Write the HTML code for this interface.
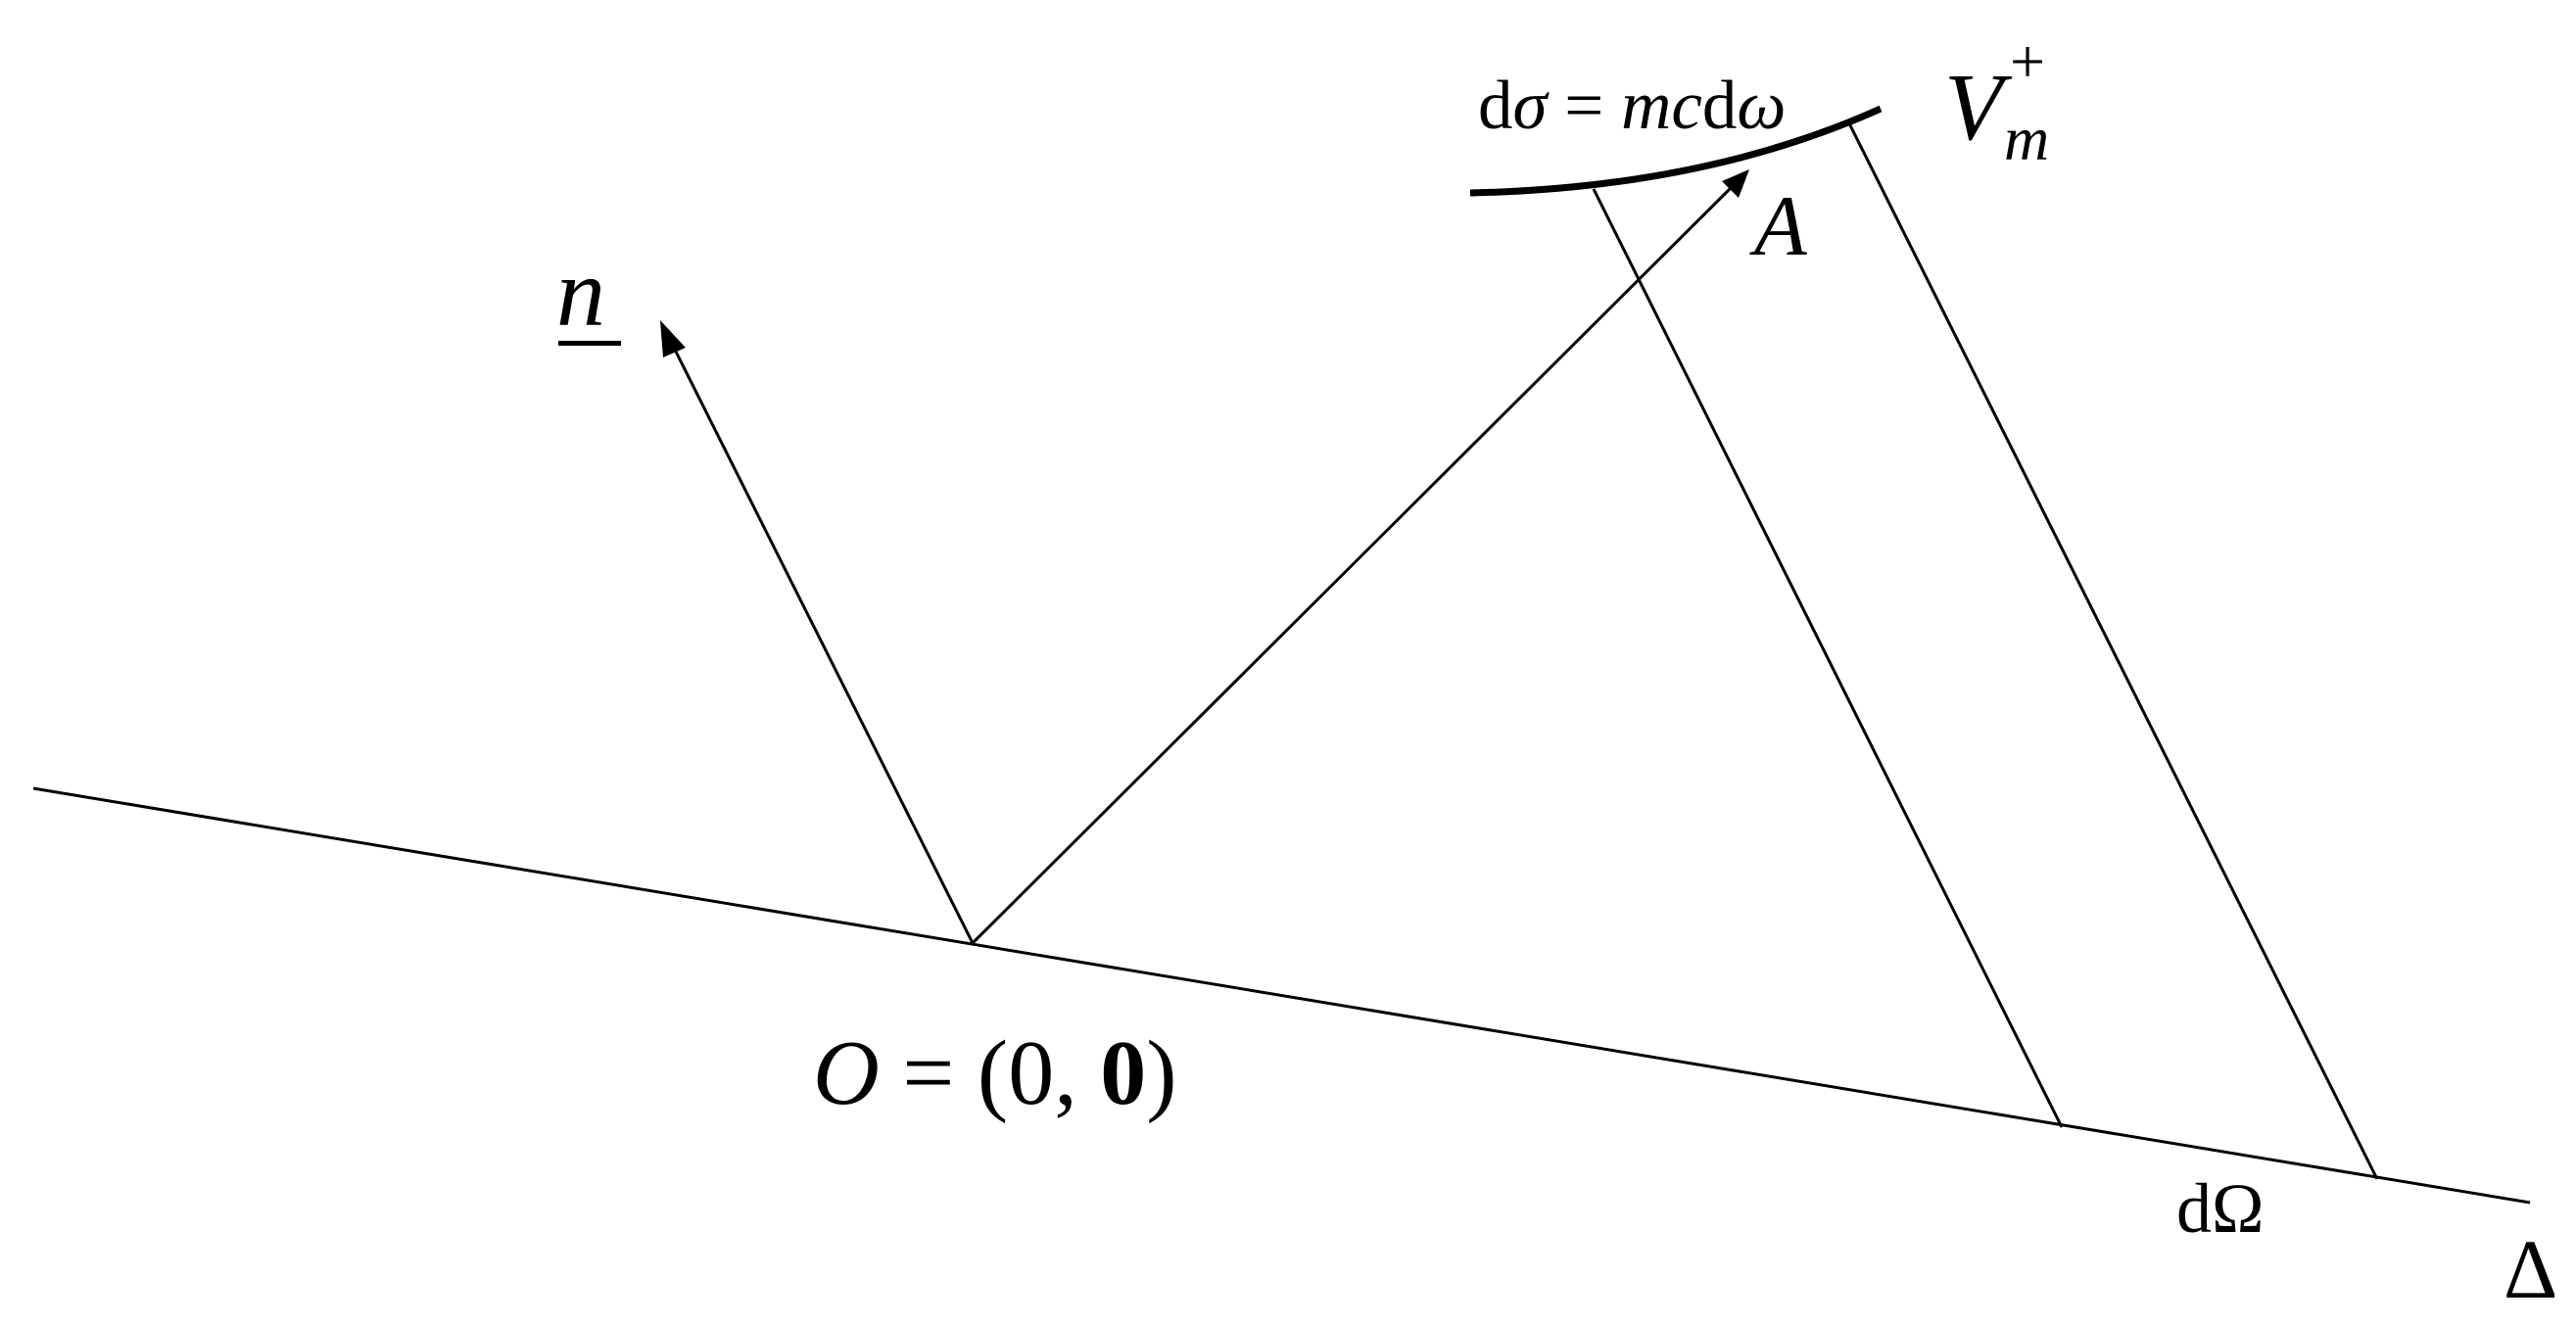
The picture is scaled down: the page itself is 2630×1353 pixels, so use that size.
<!DOCTYPE html>
<html><head><meta charset="utf-8"><style>
html,body{margin:0;padding:0;background:#fff;}
svg{display:block;}
text{font-family:"Liberation Serif",serif;fill:#000;}
</style></head><body>
<svg width="2630" height="1353" viewBox="0 0 2630 1353" xmlns="http://www.w3.org/2000/svg">
<g stroke="#000" stroke-width="3" fill="none">
<line x1="34" y1="805" x2="2583" y2="1228"/>
<line x1="993" y1="963" x2="684" y2="347"/>
<line x1="993" y1="963" x2="1772" y2="187"/>
<line x1="1627" y1="193" x2="2105" y2="1151"/>
<line x1="1887" y1="124" x2="2427" y2="1204"/>
<path d="M1501,197 Q1740,192 1920,111" stroke-width="7"/>
</g>
<polygon points="674,327 700,355 677,365" fill="#000"/>
<polygon points="1786,173 1775,202 1758,185" fill="#000"/>
<text x="568" y="332" font-size="100" font-style="italic">n</text>
<rect x="570" y="348" width="64" height="5" fill="#000"/>
<text x="1791" y="260" font-size="88" font-style="italic">A</text>
<text x="1509" y="131" font-size="71">d<tspan font-style="italic">σ</tspan> = <tspan font-style="italic">mc</tspan>d<tspan font-style="italic">ω</tspan></text>
<text x="1985" y="142" font-size="98" font-style="italic">V</text>
<text x="2052" y="84" font-size="64">+</text>
<text x="2046" y="163" font-size="64" font-style="italic">m</text>
<text x="830" y="1127" font-size="94"><tspan font-style="italic">O</tspan> = (0, <tspan font-weight="bold">0</tspan>)</text>
<text x="2222" y="1258" font-size="72">dΩ</text>
<text x="2556" y="1325" font-size="86">Δ</text>
</svg>
</body></html>
